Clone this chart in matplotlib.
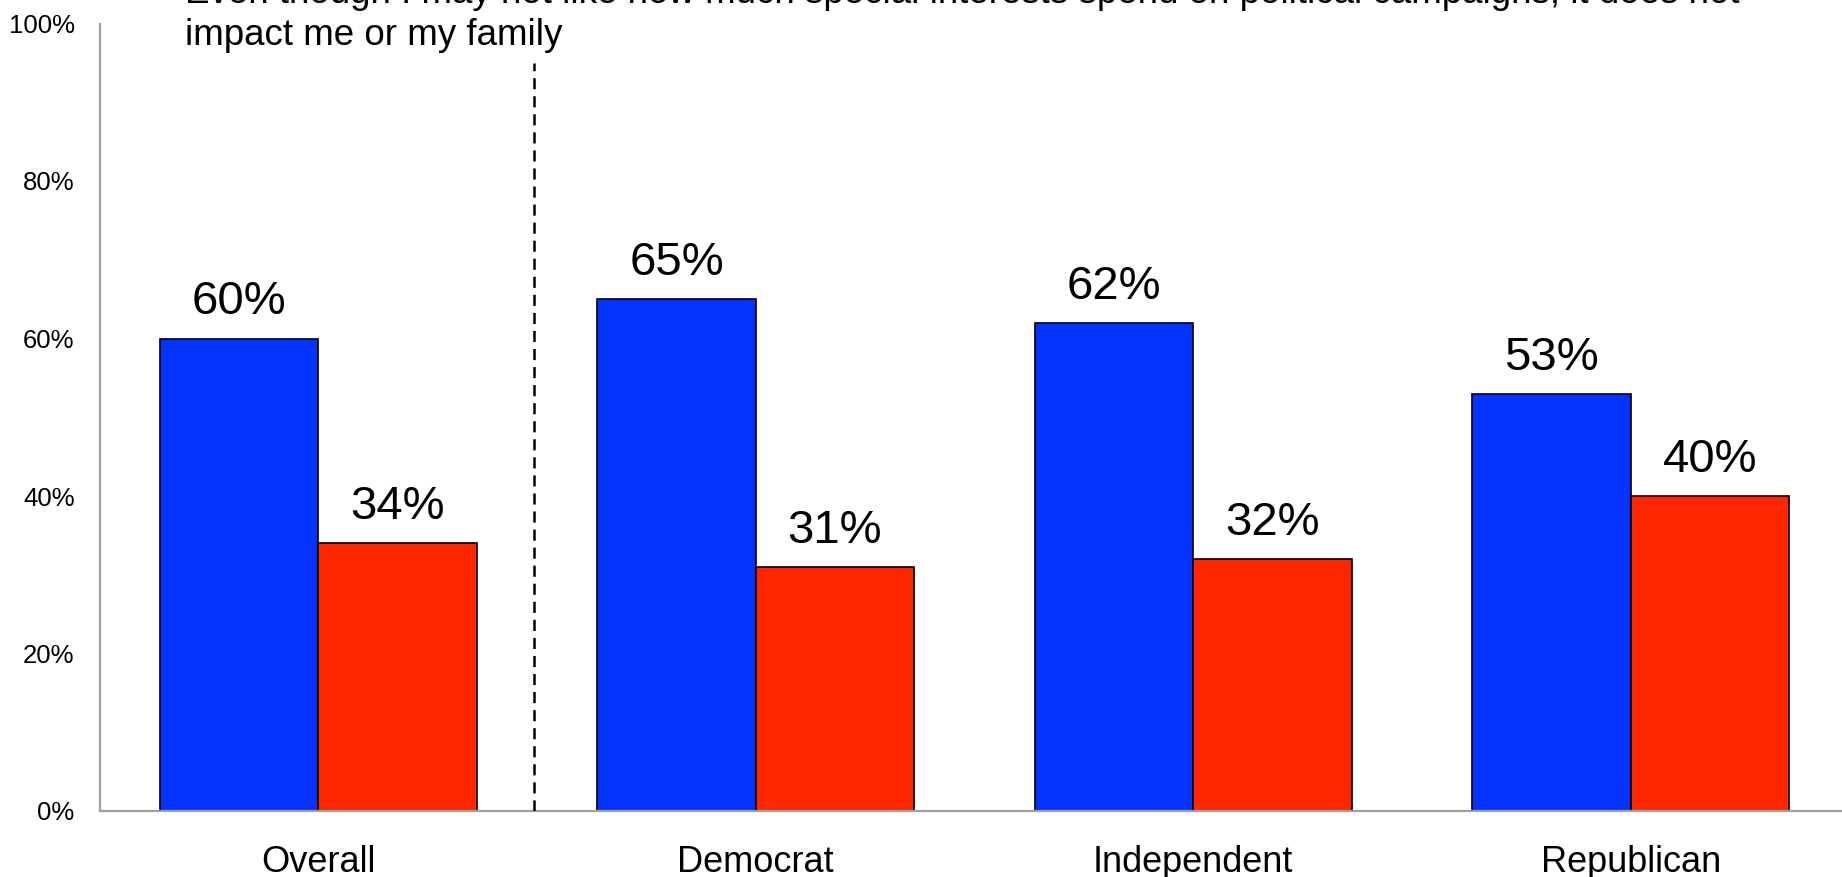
import numpy as np
import matplotlib
matplotlib.use("Agg")
import matplotlib.pyplot as plt

plt.rcParams['font.family'] = ['Liberation Sans', 'DejaVu Sans']
plt.rcParams['lines.scale_dashes'] = False

groups = ['Overall', 'Democrat', 'Independent', 'Republican']
agree = [60, 65, 62, 53]
disagree = [34, 31, 32, 40]
yticks = [0, 20, 40, 60, 80, 100]
title_lines = ['Even though I may not like how much special interests spend on political campaigns, it does not',
               'impact me or my family']

W, H = 1842, 877
fig = plt.figure(figsize=(W / 100, H / 100), dpi=100)
ax = fig.add_axes([99.5 / W, 66 / H, 1750 / W, 787.5 / H])

x = np.arange(len(groups))
bw = 0.362
ax.bar(x - bw / 2, agree, bw, color='#0433FF', edgecolor='black', linewidth=1.2, zorder=2)
ax.bar(x + bw / 2, disagree, bw, color='#FF2600', edgecolor='black', linewidth=1.2, zorder=2)

for i in range(len(groups)):
    ax.text(x[i] - bw / 2, agree[i] + 3.05, f'{agree[i]}%', ha='center', va='baseline', fontsize=34)
    ax.text(x[i] + bw / 2, disagree[i] + 3.05, f'{disagree[i]}%', ha='center', va='baseline', fontsize=34)
    ax.text(x[i], -7.75, groups[i], ha='center', va='baseline', fontsize=26, clip_on=False)

# separator between overall and the party groups
ax.plot([0.493, 0.493], [0, 95], color='black', lw=1.8, linestyle=(0, (8, 5)), zorder=3)

ax.set_xlim(-0.5, 3.5)
ax.set_ylim(0, 100)
ax.set_xticks([])
ax.set_yticks(yticks)
ax.set_yticklabels([f'{v}%' for v in yticks], fontsize=18.5)
ax.tick_params(axis='y', length=0, pad=18)
for s in ['top', 'right']:
    ax.spines[s].set_visible(False)
for s in ['left', 'bottom']:
    ax.spines[s].set_color('#a0a0a0')
    ax.spines[s].set_linewidth(1.6)

fig.text(185 / W, 1 - 3 / H, title_lines[0], fontsize=26.5, va='baseline', ha='left')
fig.text(185 / W, 1 - 45 / H, title_lines[1], fontsize=26.5, va='baseline', ha='left')

fig.savefig('out.png', dpi=100)
